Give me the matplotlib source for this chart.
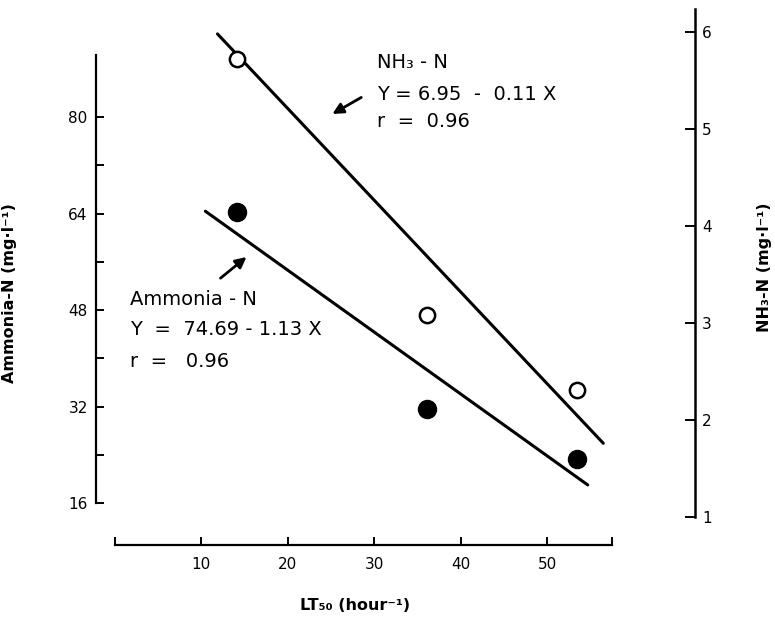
import matplotlib
matplotlib.use("Agg")
import matplotlib.pyplot as plt
from matplotlib.ticker import FixedLocator

# LT50 values (hour^-1) and measured concentrations
lt50 = [14.1, 36.1, 53.4]
ammonia_n = [64.3, 31.6, 23.3]   # mg/l, left axis, filled circles
nh3_n = [5.72, 3.08, 2.31]       # mg/l, right axis, open circles

# regression lines as drawn (end points)
ammonia_line_x = [10.5, 54.7]
ammonia_line_y = [64.4, 19.0]
nh3_line_x = [11.9, 56.5]
nh3_line_y = [5.98, 1.76]

left_ticks = [16, 32, 48, 64, 80]
left_minor = [24, 40, 56, 72]
right_ticks = [1, 2, 3, 4, 5, 6]
x_ticks = [0, 10, 20, 30, 40, 50, 57.5]
x_labels = ["", "10", "20", "30", "40", "50", ""]

fig = plt.figure(figsize=(7.75, 6.27), dpi=100)
ax = fig.add_axes([0.1239, 0.1754, 0.7729, 0.8118])
ax2 = ax.twinx()

ax.set_xlim(-2.14, 67.1)
ax.set_ylim(13.68, 98.1)
ax2.set_ylim(1.0, 6.247)

# lines + points
ax.plot(ammonia_line_x, ammonia_line_y, color="black", lw=2.2, solid_capstyle="round")
ax.plot(lt50, ammonia_n, "o", color="black", ms=13)
ax2.plot(nh3_line_x, nh3_line_y, color="black", lw=2.2, solid_capstyle="round")
ax2.plot(lt50, nh3_n, "o", mfc="white", mec="black", mew=1.8, ms=11)

# spines
for s in ["top", "right"]:
    ax.spines[s].set_visible(False)
for s in ["top", "left", "bottom"]:
    ax2.spines[s].set_visible(False)
ax.spines["left"].set_linewidth(1.6)
ax.spines["left"].set_bounds(16, 90.3)
ax.spines["bottom"].set_linewidth(1.6)
ax.spines["bottom"].set_position(("outward", 20))
ax.spines["bottom"].set_bounds(0, 57.5)
ax2.spines["right"].set_linewidth(1.8)
ax2.spines["right"].set_bounds(1, 6.24)

# ticks
ax.yaxis.set_major_locator(FixedLocator(left_ticks))
ax.yaxis.set_minor_locator(FixedLocator(left_minor))
ax.tick_params(axis="y", which="both", direction="in", length=6, width=1.4,
               pad=6, labelsize=11)
ax.xaxis.set_major_locator(FixedLocator(x_ticks))
ax.set_xticklabels(x_labels)
ax.tick_params(axis="x", direction="in", length=6, width=1.4, pad=9, labelsize=11)
ax2.yaxis.set_major_locator(FixedLocator(right_ticks))
ax2.tick_params(axis="y", direction="in", length=7, width=1.4, pad=5, labelsize=11)

# axis labels
ax.set_ylabel("Ammonia-N (mg·l⁻¹)", fontsize=11.5, fontweight="bold")
ax.yaxis.set_label_coords(-0.132, 0.44)
ax2.set_ylabel("NH₃-N (mg·l⁻¹)", fontsize=11.5, fontweight="bold", rotation=90)
ax2.yaxis.set_label_coords(1.104, 0.49)
ax.set_xlabel("LT₅₀ (hour⁻¹)", fontsize=11.5, fontweight="bold")
ax.xaxis.set_label_coords(0.432, -0.16)

# annotations
txt = dict(fontsize=14, va="center", ha="left")
ax.text(30.3, 89.1, "NH₃ - N", **txt)
ax.text(30.3, 83.7, "Y = 6.95  -  0.11 X", **txt)
ax.text(30.3, 79.2, "r  =  0.96", **txt)
ax.annotate("", xy=(24.9, 80.3), xytext=(28.8, 83.5),
            arrowprops=dict(arrowstyle="-|>", color="black", lw=2.0,
                            mutation_scale=16))

ax.text(1.8, 49.7, "Ammonia - N", **txt)
ax.text(1.8, 44.7, "Y  =  74.69 - 1.13 X", **txt)
ax.text(1.8, 39.5, "r  =   0.96", **txt)
ax.annotate("", xy=(15.5, 57.1), xytext=(12.0, 53.0),
            arrowprops=dict(arrowstyle="-|>", color="black", lw=2.0,
                            mutation_scale=16))

fig.savefig("out.png", dpi=100)
